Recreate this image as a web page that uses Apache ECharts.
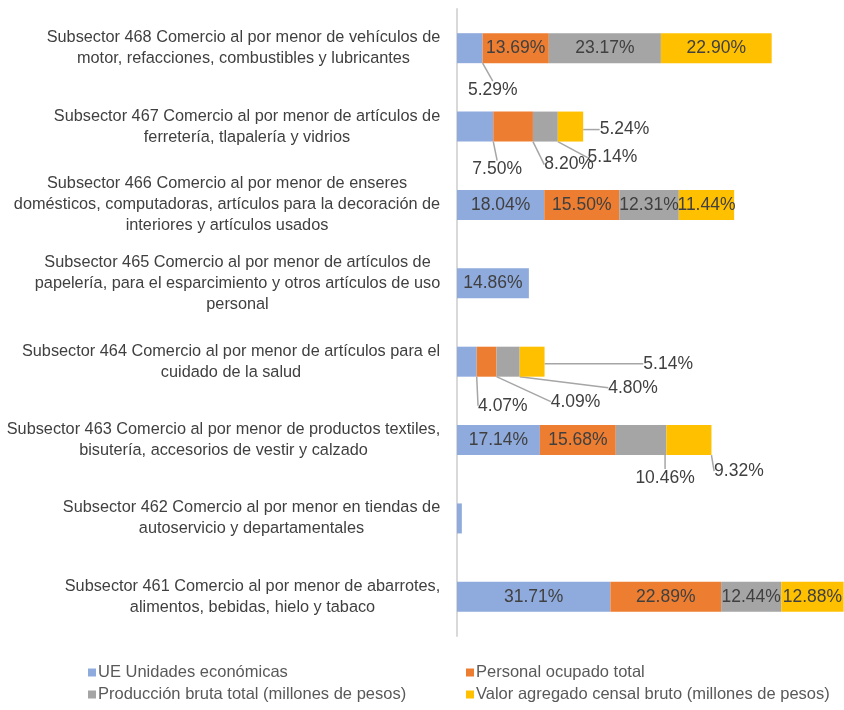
<!DOCTYPE html>
<html>
<head>
    <meta charset="utf-8">
    <title>ECharts</title>
    <script src="https://cdn.jsdelivr.net/npm/echarts@6/dist/echarts.min.js"></script>
</head>
<body style="margin:0;background:#fff;">
    <div id="main" style="width: 844px;height:710px;"></div>
    <script type="text/javascript">
        // categorias, de arriba hacia abajo
        var categorias = [
            'Subsector 468 Comercio al por menor de vehículos de\nmotor, refacciones, combustibles y lubricantes',
            'Subsector 467 Comercio al por menor de artículos de\nferretería, tlapalería y vidrios',
            'Subsector 466 Comercio al por menor de enseres\ndomésticos, computadoras, artículos para la decoración de\ninteriores y artículos usados',
            'Subsector 465 Comercio al por menor de artículos de\npapelería, para el esparcimiento y otros artículos de uso\npersonal',
            'Subsector 464 Comercio al por menor de artículos para el\ncuidado de la salud',
            'Subsector 463 Comercio al por menor de productos textiles,\nbisutería, accesorios de vestir y calzado',
            'Subsector 462 Comercio al por menor en tiendas de\nautoservicio y departamentales',
            'Subsector 461 Comercio al por menor de abarrotes,\nalimentos, bebidas, hielo y tabaco'
        ];
        var nombres = [
            'UE Unidades económicas',
            'Personal ocupado total',
            'Producción bruta total (millones de pesos)',
            'Valor agregado censal bruto (millones de pesos)'
        ];
        var unidades   = [5.29, 7.50, 18.04, 14.86, 4.07, 17.14, 1.0, 31.71];
        var personal   = [13.69, 8.20, 15.50, 0, 4.09, 15.68, 0, 22.89];
        var produccion = [23.17, 5.14, 12.31, 0, 4.80, 10.46, 0, 12.44];
        var valor      = [22.90, 5.24, 11.44, 0, 5.14, 9.32, 0, 12.88];
        var colores = ['#8FAADC', '#ED7D31', '#A5A5A5', '#FFC000'];

        // etiquetas que van fuera de la barra: serie-categoria -> desplazamiento
        var fuera = {
            '0-0': [23, 42],
            '0-1': [22, 43], '1-1': [56, 38], '2-1': [67, 31], '3-1': [54, 3],
            '0-4': [36, 44], '1-4': [89, 40], '2-4': [125, 26], '3-4': [136, 2],
            '2-5': [24, 38], '3-5': [50, 31]
        };

        // ancho de cada bloque de texto del eje para centrar las lineas
        var ctx = document.createElement('canvas').getContext('2d');
        ctx.font = '16.3px "Liberation Sans"';
        var rich = {};
        categorias.forEach(function (c, i) {
            var w = 0;
            c.split('\n').forEach(function (l) { w = Math.max(w, ctx.measureText(l).width); });
            rich['c' + i] = { width: Math.ceil(w) + 1, align: 'center', fontSize: 16.3, lineHeight: 21,
                color: '#404040', fontFamily: 'Liberation Sans' };
        });

        var myChart = echarts.init(document.getElementById('main'));

        var series = [unidades, personal, produccion, valor].map(function (d, s) {
            return {
                name: nombres[s],
                type: 'bar',
                stack: 'total',
                barWidth: 30,
                data: d,
                itemStyle: { color: colores[s] },
                label: {
                    show: true,
                    position: 'inside',
                    color: '#404040',
                    fontSize: 17.5,
                    fontFamily: 'Liberation Sans',
                    formatter: function (p) {
                        return p.value >= 2 ? p.value.toFixed(2) + '%' : '';
                    }
                },
                labelLine: {
                    show: true,
                    lineStyle: { color: '#A6A6A6', width: 1.5 }
                },
                labelLayout: function (p) {
                    var o = fuera[p.seriesIndex + '-' + p.dataIndex];
                    if (o) return { dx: o[0], dy: o[1] };
                    return {};
                }
            };
        });

        var leyenda = { color: '#595959', fontSize: 16.5, fontFamily: 'Liberation Sans', padding: [0, 0, 0, -3] };

        var option = {
            animation: false,
            color: colores,
            grid: { left: 457, top: 9, width: 389, height: 627 },
            xAxis: { type: 'value', min: 0, max: 80, show: false },
            yAxis: {
                type: 'category',
                inverse: true,
                data: categorias,
                axisTick: { show: false },
                axisLine: { show: true, lineStyle: { color: '#D9D9D9', width: 2 } },
                axisLabel: {
                    margin: 16,
                    align: 'right',
                    formatter: function (v, i) {
                        return v.split('\n').map(function (l) { return '{c' + i + '|' + l + '}'; }).join('\n');
                    },
                    rich: rich
                }
            },
            legend: [
                {
                    data: [nombres[0], nombres[2]],
                    orient: 'vertical', left: 83, top: 659, itemGap: 5,
                    itemWidth: 8, itemHeight: 8, icon: 'rect',
                    textStyle: leyenda
                },
                {
                    data: [nombres[1], nombres[3]],
                    orient: 'vertical', left: 461, top: 659, itemGap: 5,
                    itemWidth: 8, itemHeight: 8, icon: 'rect',
                    textStyle: leyenda
                }
            ],
            series: series
        };

        myChart.setOption(option);
    </script>
</body>
</html>
